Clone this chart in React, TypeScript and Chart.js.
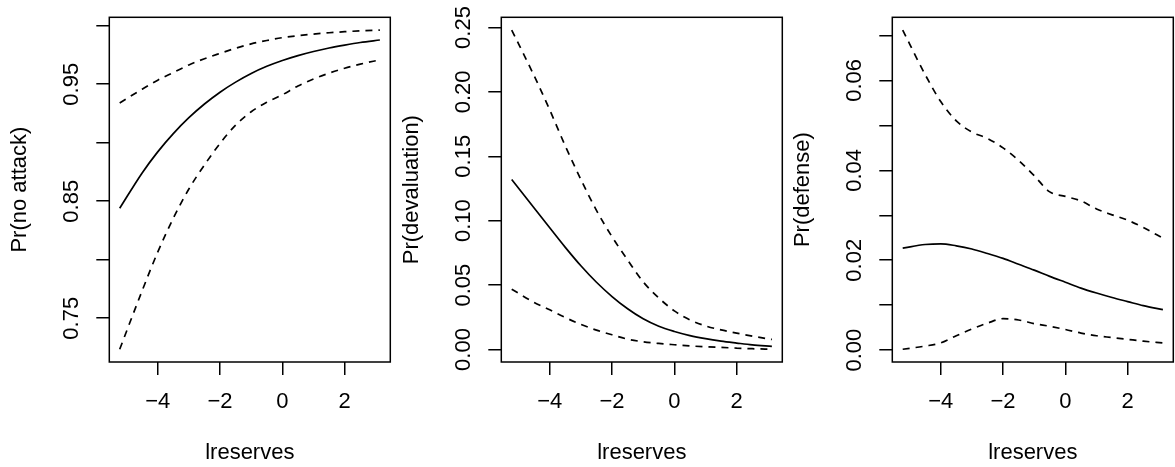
import React, { useEffect, useRef } from 'react';
import { Chart, registerables } from 'chart.js';

Chart.register(...registerables);

const FONT = "'Liberation Sans', Arial, Helvetica, sans-serif";
const FONT_SIZE = 22;

// ---- data ----
const lreserves = [-5.22, -4.5, -4, -3.5, -3, -2.5, -2, -1.5, -1, -0.5, 0, 0.5, 1, 1.5, 2, 2.5, 3.13];
const xTicks = [-4, -2, 0, 2];
const xTickLabels = ['\u22124', '\u22122', '0', '2'];
const xTitle = 'lreserves';

const noAttackFit = [0.844, 0.8742, 0.8922, 0.9078, 0.9214, 0.9331, 0.9432, 0.9518, 0.9592, 0.9653, 0.9703, 0.9745, 0.978, 0.981, 0.9835, 0.9857, 0.9878];
const noAttackUpper = [0.934, 0.9458, 0.9535, 0.96, 0.9665, 0.9718, 0.9764, 0.9808, 0.9845, 0.9874, 0.9898, 0.9915, 0.9929, 0.994, 0.9949, 0.9956, 0.9963];
const noAttackLower = [0.7235, 0.7735, 0.8065, 0.8355, 0.8605, 0.881, 0.8995, 0.915, 0.9265, 0.9345, 0.941, 0.9485, 0.9545, 0.9595, 0.9637, 0.9672, 0.9708];
const noAttackTicks = [0.75, 0.8, 0.85, 0.9, 0.95, 1.0];
const noAttackTickLabels = ['0.75', '', '0.85', '', '0.95', ''];

const devalFit = [0.132, 0.1098, 0.0945, 0.0793, 0.065, 0.0522, 0.0411, 0.0316, 0.0238, 0.018, 0.014, 0.0108, 0.0084, 0.0065, 0.005, 0.0036, 0.0024];
const devalUpper = [0.248, 0.2125, 0.186, 0.158, 0.132, 0.108, 0.0875, 0.0695, 0.0525, 0.04, 0.03, 0.023, 0.0183, 0.0152, 0.0127, 0.0104, 0.0078];
const devalLower = [0.0468, 0.0365, 0.0308, 0.0248, 0.0195, 0.015, 0.0114, 0.008, 0.006, 0.0047, 0.0037, 0.0028, 0.0021, 0.0016, 0.0011, 0.0006, 0.0002];
const devalTicks = [0, 0.05, 0.1, 0.15, 0.2, 0.25];
const devalTickLabels = ['0.00', '0.05', '0.10', '0.15', '0.20', '0.25'];

const defenseFit = [0.0227, 0.0235, 0.02365, 0.0232, 0.0225, 0.0215, 0.0204, 0.0191, 0.0178, 0.0164, 0.0151, 0.0138, 0.0127, 0.0117, 0.0108, 0.0099, 0.009];
const defenseUpper = [0.0712, 0.0613, 0.0553, 0.051, 0.0485, 0.0471, 0.045, 0.0422, 0.0388, 0.0352, 0.0342, 0.0332, 0.0314, 0.0301, 0.0289, 0.0273, 0.0249];
const defenseLower = [0.0002, 0.0009, 0.0016, 0.0032, 0.0047, 0.006, 0.007, 0.0067, 0.0059, 0.0053, 0.0046, 0.0038, 0.0032, 0.0028, 0.0024, 0.002, 0.0016];
const defenseTicks = [0, 0.01, 0.02, 0.03, 0.04, 0.05, 0.06, 0.07];
const defenseTickLabels = ['0.00', '', '0.02', '', '0.04', '', '0.06', ''];

const panels = [
  { title: 'Pr(no attack)', fit: noAttackFit, upper: noAttackUpper, lower: noAttackLower, ticks: noAttackTicks, labels: noAttackTickLabels },
  { title: 'Pr(devaluation)', fit: devalFit, upper: devalUpper, lower: devalLower, ticks: devalTicks, labels: devalTickLabels },
  { title: 'Pr(defense)', fit: defenseFit, upper: defenseUpper, lower: defenseLower, ticks: defenseTicks, labels: defenseTickLabels },
];

// ---- layout ----
const W = 1175;
const H = 467;
const PANEL_W = 392;
const PANEL_LEFT = [0, 392, 783];
const BOX_LEFT = 109.3;
const BOX_RIGHT_PAD = 1.7;
const BOX_TOP = 17.3;
const X_AXIS_H = 105;
const TICK_LEN = 13;
const LINE_W = 1.7;

function rRange(vals: number[]) {
  const mn = Math.min(...vals);
  const mx = Math.max(...vals);
  const d = (mx - mn) * 0.04;
  return [mn - d, mx + d];
}

function measure(text: string) {
  const c = document.createElement('canvas');
  const ctx = c.getContext('2d')!;
  ctx.font = `${FONT_SIZE}px ${FONT}`;
  return ctx.measureText(text).width;
}

const boxPlugin = {
  id: 'rbox',
  afterDraw(chart: any) {
    const { ctx, chartArea } = chart;
    ctx.save();
    ctx.strokeStyle = '#000';
    ctx.lineWidth = 1.5;
    ctx.strokeRect(chartArea.left, chartArea.top, chartArea.right - chartArea.left, chartArea.bottom - chartArea.top);
    ctx.restore();
  },
};

function Panel({ idx }: { idx: number }) {
  const ref = useRef<HTMLCanvasElement | null>(null);
  useEffect(() => {
    const p = panels[idx];
    const [xmin, xmax] = rRange(lreserves);
    const [ymin, ymax] = rRange([...p.fit, ...p.upper, ...p.lower]);
    const widest = Math.max(...p.labels.map((l) => (l ? measure(l) : 0)));
    const yPad = 24.6 - widest / 2;
    const mk = (ys: number[]) => lreserves.map((x, i) => ({ x, y: ys[i] }));
    const base = {
      borderColor: '#000',
      borderWidth: LINE_W,
      pointRadius: 0,
      fill: false,
      cubicInterpolationMode: 'monotone' as const,
    };
    const chart = new Chart(ref.current!, {
      type: 'line',
      data: {
        datasets: [
          { ...base, label: 'fit', data: mk(p.fit) },
          { ...base, label: 'upper', data: mk(p.upper), borderDash: [7, 6] },
          { ...base, label: 'lower', data: mk(p.lower), borderDash: [7, 6] },
        ],
      },
      options: {
        responsive: false,
        animation: false,
        devicePixelRatio: 1,
        layout: { padding: { left: 0, top: BOX_TOP, right: BOX_RIGHT_PAD, bottom: 0 } },
        plugins: { legend: { display: false }, tooltip: { enabled: false } },
        scales: {
          x: {
            type: 'linear',
            min: xmin,
            max: xmax,
            afterFit: (s: any) => { s.height = X_AXIS_H; },
            afterBuildTicks: (s: any) => { s.ticks = xTicks.map((v) => ({ value: v })); },
            grid: { display: true, drawOnChartArea: false, drawTicks: true, tickLength: TICK_LEN, color: '#000', lineWidth: 1.5 },
            border: { display: false },
            ticks: {
              autoSkip: false,
              maxRotation: 0,
              padding: 13.8,
              color: '#000',
              font: { family: FONT, size: FONT_SIZE },
              callback: (_v: any, i: number) => xTickLabels[i],
            },
            title: {
              display: true,
              text: xTitle,
              color: '#000',
              font: { family: FONT, size: FONT_SIZE },
              padding: { top: 0, bottom: 0.4 },
            },
          },
          y: {
            type: 'linear',
            min: ymin,
            max: ymax,
            afterFit: (s: any) => { s.width = BOX_LEFT; },
            afterBuildTicks: (s: any) => { s.ticks = p.ticks.map((v) => ({ value: v })); },
            grid: { display: true, drawOnChartArea: false, drawTicks: true, tickLength: TICK_LEN, color: '#000', lineWidth: 1.5 },
            border: { display: false },
            ticks: {
              autoSkip: false,
              minRotation: 90,
              maxRotation: 90,
              crossAlign: 'center',
              padding: yPad,
              color: '#000',
              font: { family: FONT, size: FONT_SIZE },
              callback: (_v: any, i: number) => p.labels[i],
            },
            title: {
              display: true,
              text: p.title,
              color: '#000',
              font: { family: FONT, size: FONT_SIZE },
              padding: { top: 7.0, bottom: 0 },
            },
          },
        },
      },
      plugins: [boxPlugin],
    } as any);
    return () => chart.destroy();
  }, [idx]);
  return (
    <canvas
      ref={ref}
      width={PANEL_W}
      height={H}
      style={{ position: 'absolute', left: PANEL_LEFT[idx], top: 0, width: PANEL_W, height: H }}
    />
  );
}

export default function App() {
  return (
    <div style={{ position: 'fixed', left: 0, top: 0, width: W, height: H, background: '#fff', overflow: 'hidden' }}>
      {panels.map((_, i) => (
        <Panel key={i} idx={i} />
      ))}
    </div>
  );
}
